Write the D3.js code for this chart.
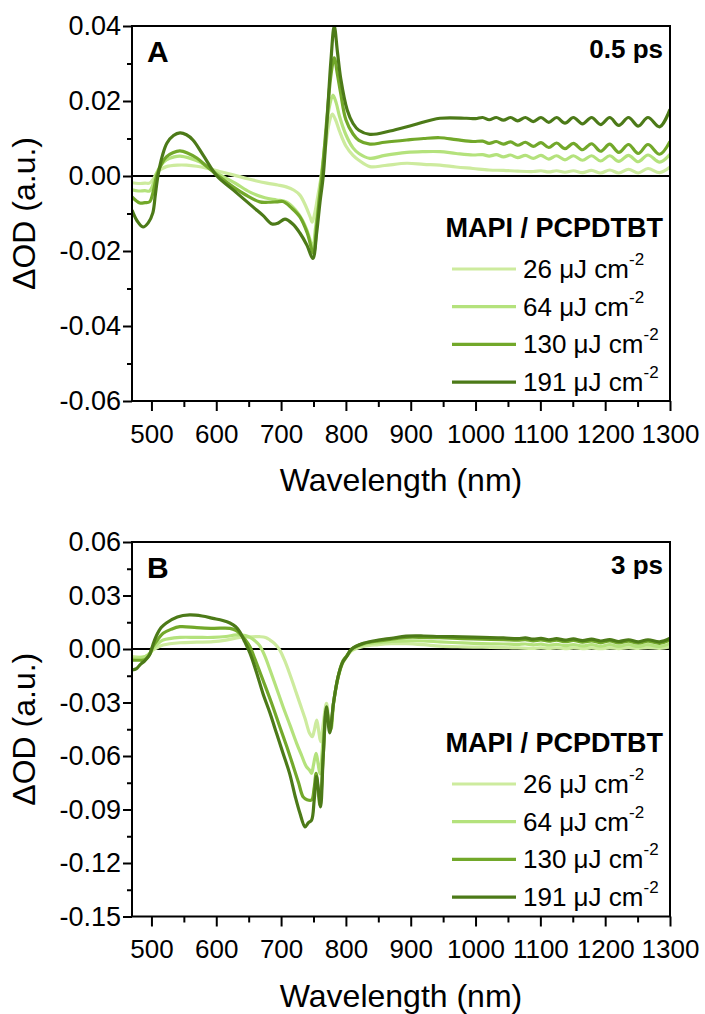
<!DOCTYPE html>
<html>
<head>
<meta charset="utf-8">
<script src="https://cdn.jsdelivr.net/npm/d3@7"></script>
<style>
  body { margin: 0; background: #fff; }
  svg text { font-family: "Liberation Sans", Arial, sans-serif; fill: #000; }
</style>
</head>
<body>
<svg id="chart" width="705" height="1014"></svg>
<script>
// ----------------------------
// Data
// ----------------------------
const fluences = ["26", "64", "130", "191"];
const xTicks = [500, 600, 700, 800, 900, 1000, 1100, 1200, 1300];
const xMinorTicks = [550, 650, 750, 850, 950, 1050, 1150, 1250];
const topYTicks = [-0.06, -0.04, -0.02, 0, 0.02, 0.04];
const topYMinor = [-0.05, -0.03, -0.01, 0.01, 0.03];
const botYTicks = [-0.15, -0.12, -0.09, -0.06, -0.03, 0, 0.03, 0.06];
const botYMinor = [-0.135, -0.105, -0.075, -0.045, -0.015, 0.015, 0.045];

// 0.5 ps spectra [wavelength nm, dOD]
const top26 = [[470,-0.0018],[480,-0.0020],[490,-0.0019],[497,-0.0019],[503,-0.0008],[508,0.0008],[515,0.0018],[523,0.0025],[540,0.0029],[554,0.0029],[570,0.0026],[585,0.0021],[605,0.0012],[626,0.0003],[650,-0.0008],[678,-0.0019],[695,-0.0024],[708,-0.0029],[720,-0.0038],[729,-0.0051],[738,-0.0080],[745,-0.0110],[748,-0.0123],[752,-0.0099],[757,-0.0050],[762,0.0],[768,0.0070],[774,0.0140],[779,0.0165],[784,0.0150],[790,0.0120],[800,0.0080],[811,0.0055],[820,0.0042],[837,0.0025],[860,0.0028],[894,0.0034],[920,0.0031],[945,0.0029],[970,0.0024],[996,0.0020],[1021,0.0016],[1043,0.0015],[1065,0.0013],[1089,0.0012],[1101,0.0014],[1113,0.0011],[1125,0.0014],[1138,0.0010],[1151,0.0014],[1165,0.0009],[1179,0.0015],[1193,0.0008],[1207,0.0016],[1221,0.0008],[1236,0.0018],[1251,0.0008],[1266,0.0020],[1284,0.0009],[1300,0.0024]];
const top64 = [[470,-0.0037],[480,-0.0040],[490,-0.0039],[497,-0.0040],[503,-0.0020],[508,0.0008],[515,0.0030],[523,0.0043],[535,0.0051],[544,0.0053],[560,0.0047],[575,0.0037],[590,0.0020],[606,0.0003],[630,-0.0020],[652,-0.0043],[675,-0.0058],[693,-0.0064],[708,-0.0069],[722,-0.0090],[733,-0.0118],[741,-0.0150],[749,-0.0190],[753,-0.0140],[758,-0.0070],[762,0.0],[768,0.0090],[774,0.0180],[780,0.0216],[785,0.0195],[790,0.0160],[800,0.0110],[811,0.0075],[820,0.0060],[837,0.0047],[860,0.0055],[894,0.0063],[920,0.0065],[945,0.0065],[970,0.0060],[996,0.0056],[1011,0.0057],[1021,0.0053],[1032,0.0057],[1043,0.0051],[1054,0.0056],[1065,0.0049],[1077,0.0055],[1089,0.0047],[1101,0.0055],[1113,0.0045],[1125,0.0054],[1138,0.0043],[1151,0.0054],[1165,0.0042],[1179,0.0054],[1193,0.0040],[1207,0.0054],[1221,0.0039],[1236,0.0055],[1251,0.0038],[1266,0.0056],[1284,0.0037],[1300,0.0058]];
const top130 = [[470,-0.0056],[482,-0.0072],[490,-0.0071],[497,-0.0069],[503,-0.0040],[508,0.0],[515,0.0030],[523,0.0051],[533,0.0062],[544,0.0067],[557,0.0060],[570,0.0048],[585,0.0026],[601,0.0003],[626,-0.0029],[645,-0.0050],[667,-0.0069],[680,-0.0070],[693,-0.0069],[703,-0.0068],[716,-0.0085],[729,-0.0109],[740,-0.0150],[750,-0.0206],[755,-0.0130],[759,-0.0060],[763,0.0],[770,0.0140],[777,0.0270],[782,0.0315],[787,0.0270],[792,0.0220],[800,0.0150],[811,0.0112],[820,0.0095],[837,0.0085],[860,0.0090],[894,0.0096],[920,0.0100],[945,0.0102],[970,0.0097],[996,0.0092],[1011,0.0093],[1021,0.0087],[1032,0.0092],[1043,0.0085],[1054,0.0091],[1065,0.0082],[1077,0.0090],[1089,0.0079],[1101,0.0089],[1113,0.0076],[1125,0.0088],[1138,0.0073],[1151,0.0087],[1165,0.0070],[1179,0.0086],[1193,0.0066],[1207,0.0085],[1221,0.0063],[1236,0.0084],[1251,0.0060],[1266,0.0084],[1284,0.0058],[1300,0.0092]];
const top191 = [[470,-0.0091],[478,-0.0120],[487,-0.0136],[495,-0.0125],[502,-0.0099],[506,-0.0050],[510,0.0],[517,0.0055],[524,0.0088],[534,0.0108],[544,0.0115],[554,0.0110],[564,0.0096],[580,0.0055],[601,0.0],[626,-0.0037],[657,-0.0083],[672,-0.0105],[686,-0.0128],[696,-0.0125],[706,-0.0115],[718,-0.0128],[729,-0.0152],[740,-0.0185],[749,-0.0220],[755,-0.0150],[760,-0.0070],[765,0.0],[771,0.0150],[777,0.0310],[782,0.0400],[787,0.0330],[792,0.0260],[802,0.0176],[811,0.0140],[820,0.0122],[837,0.0111],[868,0.0120],[904,0.0136],[945,0.0154],[986,0.0154],[1000,0.0153],[1011,0.0156],[1021,0.0150],[1032,0.0156],[1043,0.0149],[1054,0.0156],[1065,0.0147],[1077,0.0156],[1089,0.0145],[1101,0.0156],[1113,0.0143],[1125,0.0156],[1138,0.0141],[1151,0.0156],[1165,0.0139],[1179,0.0156],[1193,0.0137],[1207,0.0156],[1221,0.0135],[1236,0.0156],[1251,0.0133],[1266,0.0156],[1284,0.0131],[1300,0.0178]];

// 3 ps spectra [wavelength nm, dOD]
const bot26 = [[470,-0.0043],[480,-0.0045],[490,-0.0043],[497,-0.0030],[502,-0.0006],[510,0.0010],[518,0.0022],[544,0.0035],[570,0.0038],[595,0.0041],[615,0.0050],[636,0.0065],[652,0.0068],[667,0.0069],[676,0.0065],[683,0.0050],[690,0.0030],[698,-0.0006],[705,-0.0060],[713,-0.0136],[721,-0.0220],[729,-0.0305],[737,-0.0390],[744,-0.0473],[748,-0.0492],[751,-0.0460],[755,-0.0398],[758,-0.0460],[761,-0.0520],[765,-0.0420],[770,-0.0305],[774,-0.0400],[777,-0.0440],[781,-0.0300],[788,-0.0160],[795,-0.0080],[801,-0.0045],[809,-0.0010],[827,0.0015],[850,0.0025],[870,0.0030],[893,0.0030],[920,0.0024],[945,0.0016],[980,0.0012],[1010,0.0010],[1043,0.0008],[1065,0.0006],[1089,0.0004],[1101,0.0006],[1113,0.0003],[1125,0.0006],[1138,0.0002],[1151,0.0006],[1165,0.0002],[1179,0.0006],[1193,0.0002],[1207,0.0006],[1221,0.0002],[1236,0.0007],[1251,0.0003],[1266,0.0008],[1284,0.0004],[1300,0.0012]];
const bot64 = [[470,-0.0053],[480,-0.0050],[490,-0.0043],[497,-0.0025],[502,0.0],[510,0.0030],[518,0.0050],[544,0.0065],[570,0.0065],[595,0.0065],[615,0.0070],[631,0.0079],[645,0.0075],[652,0.0065],[660,0.0045],[667,0.0019],[675,-0.0040],[683,-0.0118],[693,-0.0220],[703,-0.0324],[714,-0.0430],[724,-0.0529],[732,-0.0600],[739,-0.0660],[744,-0.0680],[747,-0.0697],[750,-0.0650],[754,-0.0585],[757,-0.0640],[760,-0.0700],[765,-0.0500],[770,-0.0324],[774,-0.0420],[777,-0.0450],[781,-0.0300],[788,-0.0157],[795,-0.0075],[801,-0.0040],[809,-0.0005],[827,0.0025],[850,0.0035],[870,0.0042],[893,0.0046],[920,0.0045],[945,0.0040],[980,0.0034],[1010,0.0030],[1043,0.0028],[1065,0.0026],[1077,0.0028],[1089,0.0023],[1101,0.0027],[1113,0.0021],[1125,0.0026],[1138,0.0019],[1151,0.0025],[1165,0.0017],[1179,0.0024],[1193,0.0016],[1207,0.0024],[1221,0.0015],[1236,0.0024],[1251,0.0014],[1266,0.0024],[1284,0.0014],[1300,0.0030]];
const bot130 = [[470,-0.0062],[480,-0.0063],[490,-0.0060],[497,-0.0030],[502,0.0013],[510,0.0055],[518,0.0088],[530,0.0110],[544,0.0125],[570,0.0120],[595,0.0116],[621,0.0116],[630,0.0105],[636,0.0088],[645,0.0050],[652,0.0013],[660,-0.0060],[672,-0.0174],[685,-0.0300],[698,-0.0436],[709,-0.0550],[719,-0.0660],[727,-0.0750],[734,-0.0829],[740,-0.0845],[747,-0.0847],[751,-0.0780],[754,-0.0697],[757,-0.0790],[760,-0.0875],[765,-0.0600],[770,-0.0342],[774,-0.0430],[776,-0.0454],[781,-0.0300],[788,-0.0155],[795,-0.0070],[801,-0.0040],[809,0.0],[827,0.0030],[850,0.0045],[870,0.0055],[893,0.0065],[920,0.0065],[945,0.0063],[980,0.0058],[1010,0.0055],[1043,0.0053],[1065,0.0050],[1077,0.0053],[1089,0.0046],[1101,0.0051],[1113,0.0044],[1125,0.0050],[1138,0.0041],[1151,0.0048],[1165,0.0038],[1179,0.0046],[1193,0.0036],[1207,0.0045],[1221,0.0034],[1236,0.0044],[1251,0.0033],[1266,0.0044],[1284,0.0032],[1300,0.0050]];
const bot191 = [[470,-0.0118],[477,-0.0110],[482,-0.0090],[490,-0.0065],[497,-0.0034],[502,0.0020],[507,0.0069],[515,0.0120],[523,0.0146],[540,0.0180],[559,0.0191],[578,0.0185],[595,0.0172],[610,0.0160],[621,0.0146],[630,0.0125],[636,0.0097],[644,0.0040],[652,-0.0023],[662,-0.0130],[672,-0.0249],[683,-0.0360],[693,-0.0473],[703,-0.0585],[713,-0.0696],[722,-0.0830],[729,-0.0920],[737,-0.0997],[742,-0.0975],[747,-0.0960],[751,-0.0850],[754.6,-0.0716],[758,-0.0800],[761,-0.0885],[765,-0.0600],[770,-0.0324],[775,-0.0470],[781,-0.0300],[788,-0.0155],[795,-0.0075],[801,-0.0043],[809,0.0],[827,0.0032],[850,0.0050],[870,0.0060],[893,0.0072],[920,0.0073],[945,0.0070],[980,0.0068],[1010,0.0065],[1043,0.0062],[1065,0.0058],[1077,0.0062],[1089,0.0055],[1101,0.0060],[1113,0.0052],[1125,0.0058],[1138,0.0050],[1151,0.0057],[1165,0.0047],[1179,0.0055],[1193,0.0045],[1207,0.0053],[1221,0.0042],[1236,0.0052],[1251,0.0040],[1266,0.0052],[1284,0.0040],[1300,0.0060]];

const lineColors = ["#cdeb9e", "#b4e27c", "#72a82a", "#4c7a18"];

// ----------------------------
// Plotting
// ----------------------------
const svg = d3.select("#chart");
const plotLeft = 132;
const plotRight = 670;

function drawPanel(p) {
  const xScale = d3.scaleLinear().domain([470, 1300]).range([plotLeft, plotRight]);
  const yScale = d3.scaleLinear().domain(p.yDomain).range([p.bottom, p.top]);
  const g = svg.append("g");

  const clipId = `clip-${p.letter}`;
  g.append("clipPath").attr("id", clipId)
    .append("rect")
      .attr("x", plotLeft).attr("y", p.top)
      .attr("width", plotRight - plotLeft).attr("height", p.bottom - p.top);

  // minor ticks first, then major ticks with labels
  g.append("g").attr("transform", `translate(0,${p.bottom})`)
    .call(d3.axisBottom(xScale).tickValues(xMinorTicks).tickSize(6).tickFormat(""));
  g.append("g").attr("transform", `translate(0,${p.bottom})`)
    .call(d3.axisBottom(xScale).tickValues(xTicks).tickSize(10).tickPadding(13.5).tickFormat(d => d))
    .selectAll("text").attr("font-size", 26);
  g.append("g").attr("transform", `translate(${plotLeft},0)`)
    .call(d3.axisLeft(yScale).tickValues(p.yMinor).tickSize(5).tickFormat(""));
  g.append("g").attr("transform", `translate(${plotLeft},0)`)
    .call(d3.axisLeft(yScale).tickValues(p.yTicks).tickSize(9).tickPadding(2).tickFormat(d => d.toFixed(2)))
    .selectAll("text").attr("font-size", 27);

  g.selectAll(".domain").remove();
  g.selectAll(".tick line").attr("stroke", "#000").attr("stroke-width", 2);

  // zero line
  g.append("line")
    .attr("x1", plotLeft).attr("x2", plotRight)
    .attr("y1", yScale(0)).attr("y2", yScale(0))
    .attr("stroke", "#000").attr("stroke-width", 2);

  const lineGen = d3.line()
    .x(d => xScale(d[0]))
    .y(d => yScale(d[1]))
    .curve(d3.curveCatmullRom.alpha(0.5));

  p.series.forEach((s, i) => {
    g.append("path")
      .datum(s)
      .attr("clip-path", `url(#${clipId})`)
      .attr("fill", "none")
      .attr("stroke", lineColors[i])
      .attr("stroke-width", 3.2)
      .attr("stroke-linejoin", "round")
      .attr("d", lineGen);
  });

  // frame
  g.append("rect")
    .attr("x", plotLeft).attr("y", p.top)
    .attr("width", plotRight - plotLeft).attr("height", p.bottom - p.top)
    .attr("fill", "none").attr("stroke", "#000").attr("stroke-width", 2);

  // axis titles
  g.append("text")
    .attr("x", (plotLeft + plotRight) / 2).attr("y", p.bottom + 90)
    .attr("text-anchor", "middle").attr("font-size", 32)
    .text("Wavelength (nm)");
  g.append("text")
    .attr("transform", `translate(35,${(p.top + p.bottom) / 2}) rotate(-90)`)
    .attr("text-anchor", "middle").attr("font-size", 32)
    .text("ΔOD (a.u.)");

  // panel letter and delay
  g.append("text")
    .attr("x", 147).attr("y", p.top + 36)
    .attr("font-size", 30).attr("font-weight", "bold")
    .text(p.letter);
  g.append("text")
    .attr("x", 663).attr("y", p.top + 32)
    .attr("text-anchor", "end").attr("font-size", 26).attr("font-weight", "bold")
    .text(p.delay);

  // legend
  g.append("text")
    .attr("x", 663).attr("y", p.legendTop)
    .attr("text-anchor", "end").attr("font-size", 27).attr("font-weight", "bold")
    .text("MAPI / PCPDTBT");
  fluences.forEach((f, i) => {
    const ly = p.legendTop + 32 + i * 37.7;
    g.append("line")
      .attr("x1", 452).attr("x2", 516)
      .attr("y1", ly).attr("y2", ly)
      .attr("stroke", lineColors[i]).attr("stroke-width", 3.2);
    const t = g.append("text")
      .attr("x", 523).attr("y", ly + 9)
      .attr("font-size", 26);
    t.append("tspan").text(`${f} μJ cm`);
    t.append("tspan").attr("dy", -13).attr("font-size", 17).text("-2");
  });
}

drawPanel({
  top: 26, bottom: 401,
  yDomain: [-0.06, 0.04], yTicks: topYTicks, yMinor: topYMinor,
  series: [top26, top64, top130, top191],
  letter: "A", delay: "0.5 ps", legendTop: 237
});

drawPanel({
  top: 542, bottom: 916.5,
  yDomain: [-0.15, 0.06], yTicks: botYTicks, yMinor: botYMinor,
  series: [bot26, bot64, bot130, bot191],
  letter: "B", delay: "3 ps", legendTop: 752
});
</script>
</body>
</html>
